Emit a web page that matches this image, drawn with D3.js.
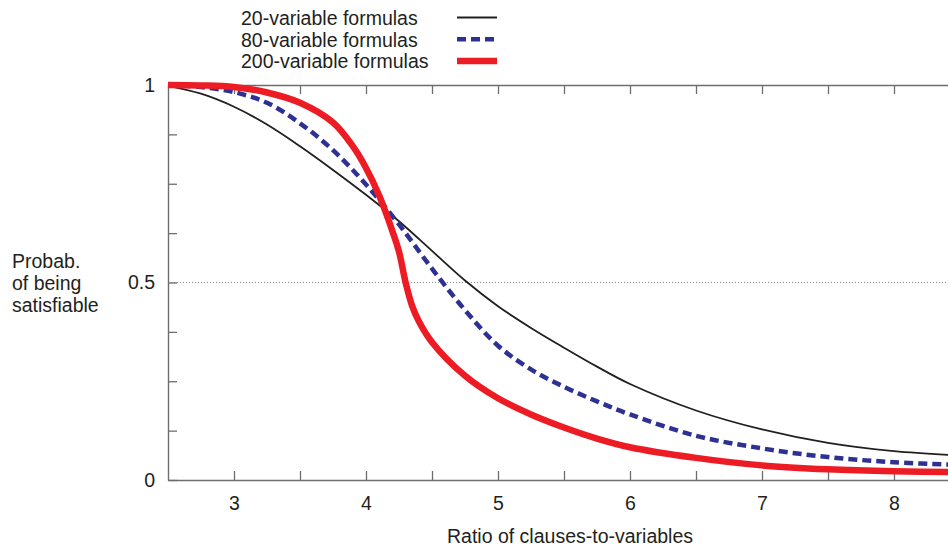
<!DOCTYPE html>
<html>
<head>
<meta charset="utf-8">
<script src="https://cdn.jsdelivr.net/npm/d3@7"></script>
<style>
  body { margin: 0; background: #fff; }
  svg text { font-family: "Liberation Sans", Arial, sans-serif; fill: #231f20; }
</style>
</head>
<body>
<svg id="chart"></svg>
<script>
// Data
const ratios = [2.5, 2.75, 3, 3.25, 3.5, 3.75, 4, 4.25, 4.5, 4.75, 5, 5.25, 5.5, 5.75, 6, 6.5, 7, 7.5, 8, 8.5];
const prob20 = [0.998, 0.978, 0.945, 0.9, 0.845, 0.785, 0.722, 0.655, 0.58, 0.505, 0.44, 0.385, 0.335, 0.287, 0.243, 0.176, 0.128, 0.094, 0.073, 0.062];
const prob80 = [1.0, 0.995, 0.982, 0.955, 0.903, 0.835, 0.748, 0.647, 0.535, 0.43, 0.34, 0.28, 0.236, 0.199, 0.166, 0.112, 0.08, 0.058, 0.045, 0.038];

const ratios200 = [2.5, 2.75, 3, 3.25, 3.5, 3.75, 3.9, 4, 4.1, 4.2, 4.25, 4.3, 4.35, 4.4, 4.5, 4.75, 5, 5.25, 5.5, 5.75, 6, 6.5, 7, 7.5, 8, 8.5];
const prob200 = [1.0, 0.999, 0.995, 0.981, 0.955, 0.905, 0.845, 0.79, 0.72, 0.63, 0.578, 0.5, 0.44, 0.402, 0.349, 0.264, 0.207, 0.166, 0.133, 0.105, 0.083, 0.056, 0.037, 0.027, 0.022, 0.02];

const seriesNames = ["20-variable formulas", "80-variable formulas", "200-variable formulas"];
const xTicks = [3, 3.5, 4, 4.5, 5, 5.5, 6, 6.5, 7, 7.5, 8];
const yTicks = [0, 0.125, 0.25, 0.375, 0.5, 0.625, 0.75, 0.875, 1];
const yLabels = [0, 0.5, 1];

const series = [
  {name: seriesNames[0], xs: ratios, ys: prob20, color: "#231f20", width: 1.8, dash: null},
  {name: seriesNames[1], xs: ratios, ys: prob80, color: "#2e3192", width: 4.5, dash: "9,5"},
  {name: seriesNames[2], xs: ratios200, ys: prob200, color: "#ed1c24", width: 6.5, dash: null}
];

const W = 948, H = 547;
const margin = {top: 85, left: 168},
    width = 792,
    height = 395;

const svg = d3.select("#chart").attr("width", W).attr("height", H);
const g = svg.append("g").attr("transform", `translate(${margin.left},${margin.top})`);

const x = d3.scaleLinear().domain([2.5, 8.5]).range([0, width]);
const y = d3.scaleLinear().domain([0, 1]).range([height, 0]);

const fontSize = 19.5;
const axisColor = "#6d6e71";

// dotted line at 0.5
g.append("line")
  .attr("x1", 0).attr("x2", width)
  .attr("y1", y(0.5)).attr("y2", y(0.5))
  .attr("stroke", "#8a8a8a")
  .attr("stroke-width", 1)
  .attr("stroke-dasharray", "1,2");

function styleAxis(sel) {
  sel.select(".domain").attr("stroke", axisColor).attr("stroke-width", 1.4);
  sel.selectAll(".tick line").attr("stroke", axisColor).attr("stroke-width", 1.3);
  sel.selectAll("text").style("font-size", fontSize + "px").attr("fill", "#231f20");
}

// bottom axis
g.append("g")
  .attr("transform", `translate(0,${height})`)
  .call(d3.axisBottom(x).tickValues(xTicks).tickSizeInner(-9).tickSizeOuter(0).tickPadding(16)
    .tickFormat(d => Number.isInteger(d) ? d : ""))
  .call(styleAxis);

// top axis
g.append("g")
  .call(d3.axisTop(x).tickValues(xTicks).tickSizeInner(-9).tickSizeOuter(0).tickFormat(""))
  .call(styleAxis);

// left axis
g.append("g")
  .call(d3.axisLeft(y).tickValues(yTicks).tickSizeInner(-9).tickSizeOuter(0).tickPadding(13)
    .tickFormat(d => yLabels.includes(d) ? d : ""))
  .call(styleAxis);

// right axis (mostly outside the window)
g.append("g")
  .attr("transform", `translate(${width},0)`)
  .call(d3.axisRight(y).tickValues(yTicks).tickSizeInner(-9).tickSizeOuter(0).tickFormat(""))
  .call(styleAxis);

// curves
const line = d3.line()
  .x(d => x(d[0]))
  .y(d => y(d[1]))
  .curve(d3.curveCatmullRom.alpha(0.5));

series.forEach(s => {
  g.append("path")
    .datum(s.xs.map((v, i) => [v, s.ys[i]]))
    .attr("fill", "none")
    .attr("stroke", s.color)
    .attr("stroke-width", s.width)
    .attr("stroke-dasharray", s.dash)
    .attr("d", line);
});

// legend
const legend = svg.append("g").attr("transform", "translate(241,0)");
series.forEach((s, i) => {
  const yy = 25 + i * 21.7;
  legend.append("text")
    .attr("x", 0).attr("y", yy)
    .style("font-size", fontSize + "px")
    .text(s.name);
  legend.append("line")
    .attr("x1", 216).attr("x2", 256)
    .attr("y1", yy - 7.5).attr("y2", yy - 7.5)
    .attr("stroke", s.color)
    .attr("stroke-width", s.width)
    .attr("stroke-dasharray", s.dash);
});

// axis titles
svg.append("text")
  .attr("x", 570).attr("y", 543)
  .attr("text-anchor", "middle")
  .style("font-size", fontSize + "px")
  .text("Ratio of clauses-to-variables");

const yTitle = svg.append("text")
  .attr("x", 12).attr("y", 268)
  .style("font-size", fontSize + "px");
["Probab.", "of being", "satisfiable"].forEach((t, i) => {
  yTitle.append("tspan").attr("x", 12).attr("dy", i === 0 ? 0 : 22).text(t);
});
</script>
</body>
</html>
